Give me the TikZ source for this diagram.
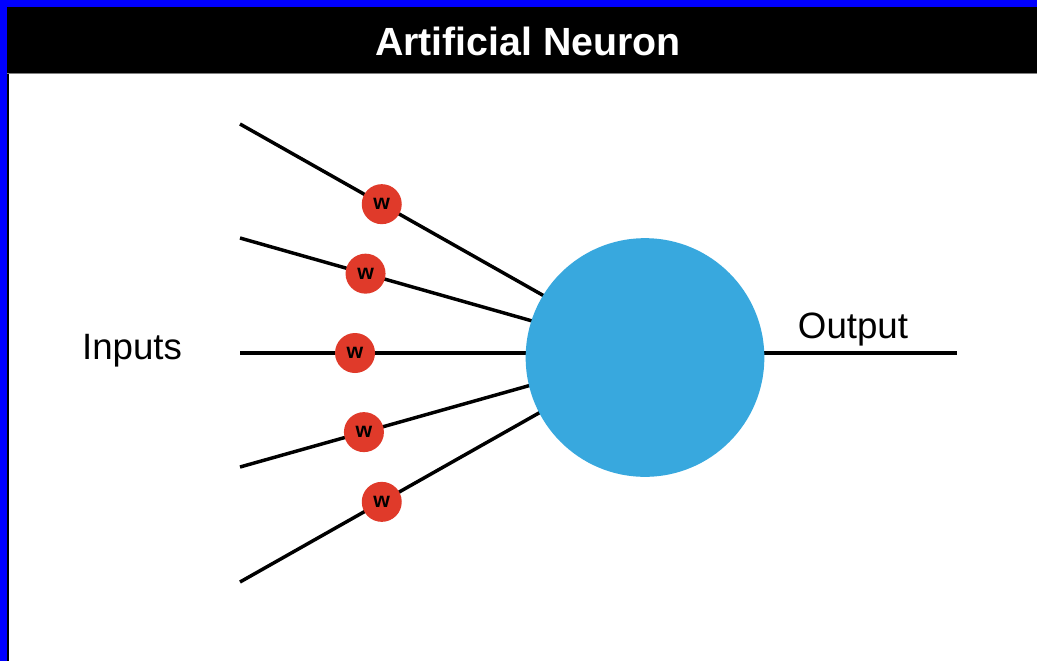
\documentclass[tikz,border=0pt]{standalone}
\usepackage{fontspec}
\setmainfont{Liberation Sans}
\usetikzlibrary{calc}

\definecolor{neuronblue}{RGB}{56,168,222}
\definecolor{weightred}{RGB}{224,58,42}

\begin{document}
\begin{tikzpicture}[x=0.75pt,y=0.75pt,yscale=-1,xscale=1,
  weight/.style={circle,fill=weightred,minimum size=30pt,inner sep=0pt,font=\fontsize{16}{16}\selectfont\bfseries},
  wire/.style={line width=2.6pt,black},
  label/.style={anchor=base,inner sep=0pt,font=\fontsize{27.5}{27.5}\selectfont}]
\useasboundingbox (0,0) rectangle (1037,661);

%Shape: Frame
\fill[white] (0,0) rectangle (1037,661);
\fill[blue] (0,0) rectangle (1037,7);
\fill[blue] (0,0) rectangle (7,661);
\fill[black] (7,7) rectangle (1037,73);
\fill[black] (7,73) rectangle (8.5,661);
\draw[gray,line width=0.75pt] (7,73.5) -- (1037,73.5);

% Text Node
\node[anchor=base,inner sep=0pt,text=white,font=\fontsize{29.5}{29.5}\selectfont\bfseries] (title) at (528,55) {Artificial Neuron};

%Coordinates
\coordinate (hub) at (645,353);
\coordinate (in1) at (240,124);
\coordinate (in2) at (240,238);
\coordinate (in3) at (240,353);
\coordinate (in4) at (240,467);
\coordinate (in5) at (240,582);
\coordinate (out) at (957,353);

%Straight Lines
\foreach \i in {1,...,5}
  \draw[wire] (in\i) -- (hub);
\draw[wire] (hub) -- (out);

%Shape: Circle
\node[circle,fill=neuronblue,minimum size=179pt,inner sep=0pt] (neuron) at (645,357.5) {};

%Shape: Weights
\foreach \i/\f in {1/0.35,2/0.31,3/0.284,4/0.306,5/0.35}
  \node[weight] (w\i) at ($(in\i)!\f!(hub)$) {w};

% Text Node
\node[label] (inputs) at (132,359) {Inputs};
% Text Node
\node[label] (output) at (853,338) {Output};

\end{tikzpicture}
\end{document}
